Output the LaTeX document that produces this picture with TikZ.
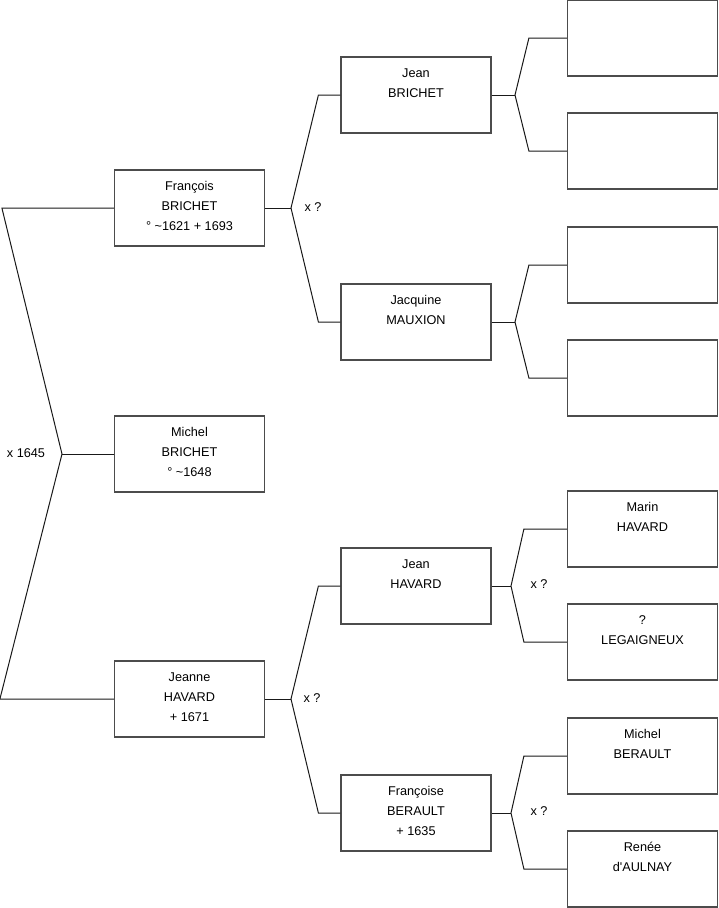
\documentclass[tikz,border=0pt]{standalone}
\usepackage{fontspec}
\setmainfont{Liberation Sans}
\usepackage{tikz}
\usetikzlibrary{positioning}

% box contents: lines hang from the top of the box
\newcommand{\persontext}[1]{\parbox[c][76pt][t]{150pt}{\centering\fontsize{12.7}{20}\selectfont\rule{0pt}{20pt}#1}}

\tikzset{
  person/.style={draw=black!70, line width=1.2pt, inner sep=0pt, fill=white},
  link/.style={draw=black!90, line width=1pt},
  marr/.style={font=\fontsize{12.7}{14}\selectfont, inner sep=0pt}
}

\begin{document}
\begin{tikzpicture}[x=1pt, y=-1pt]
\useasboundingbox (0,0) rectangle (719,908);

% generation 1
\node[person] (francois) at (189.5,208) {\persontext{François\\BRICHET\\\textdegree{} \textasciitilde1621 + 1693}};
\node[person] (michel) at (189.5,454) {\persontext{Michel\\BRICHET\\\textdegree{} \textasciitilde1648}};
\node[person] (jeanne) at (189.5,699) {\persontext{Jeanne\\HAVARD\\+ 1671}};

% generation 2
\node[person] (jeanB) at (416,95) {\persontext{Jean\\BRICHET}};
\node[person] (jacquine) at (416,322) {\persontext{Jacquine\\MAUXION}};
\node[person] (jeanH) at (416,586) {\persontext{Jean\\HAVARD}};
\node[person] (francoise) at (416,813) {\persontext{Françoise\\BERAULT\\+ 1635}};

% generation 3
\node[person] (g1) at (642.5,38) {\persontext{}};
\node[person] (g2) at (642.5,151) {\persontext{}};
\node[person] (g3) at (642.5,265) {\persontext{}};
\node[person] (g4) at (642.5,378) {\persontext{}};
\node[person] (marin) at (642.5,529) {\persontext{Marin\\HAVARD}};
\node[person] (legaigneux) at (642.5,642) {\persontext{?\\LEGAIGNEUX}};
\node[person] (michelB) at (642.5,756) {\persontext{Michel\\BERAULT}};
\node[person] (renee) at (642.5,869) {\persontext{Renée\\d\textquotesingle AULNAY}};

% junctions
\coordinate (j0) at (62,454);
\coordinate (j1) at (291,208);
\coordinate (j2) at (291,699);
\coordinate (j3) at (515,95);
\coordinate (j4) at (515,322);
\coordinate (j5) at (511,586);
\coordinate (j6) at (511,813);

% connectors
\draw[link] (francois.west) -- ++(-112,0) -- (j0) -- ([xshift=-114]jeanne.west) -- (jeanne.west);
\draw[link] (j0) -- (michel.west);
\draw[link] (francois.east) -- (j1);
\draw[link] (jeanB.west) -- ++(-22,0) -- (j1) -- ([xshift=-22]jacquine.west) -- (jacquine.west);
\draw[link] (jeanne.east) -- (j2);
\draw[link] (jeanH.west) -- ++(-22,0) -- (j2) -- ([xshift=-22]francoise.west) -- (francoise.west);
\draw[link] (jeanB.east) -- (j3);
\draw[link] (g1.west) -- ++(-38,0) -- (j3) -- ([xshift=-38]g2.west) -- (g2.west);
\draw[link] (jacquine.east) -- (j4);
\draw[link] (g3.west) -- ++(-38,0) -- (j4) -- ([xshift=-38]g4.west) -- (g4.west);
\draw[link] (jeanH.east) -- (j5);
\draw[link] (marin.west) -- ++(-43,0) -- (j5) -- ([xshift=-43]legaigneux.west) -- (legaigneux.west);
\draw[link] (francoise.east) -- (j6);
\draw[link] (michelB.west) -- ++(-43,0) -- (j6) -- ([xshift=-43]renee.west) -- (renee.west);

% marriage labels
\node[marr] (m0) at (26,453) {x 1645};
\node[marr] (m1) at (313,207) {x ?};
\node[marr] (m2) at (312,698) {x ?};
\node[marr] (m3) at (539,584) {x ?};
\node[marr] (m4) at (539,811) {x ?};
\end{tikzpicture}
\end{document}
